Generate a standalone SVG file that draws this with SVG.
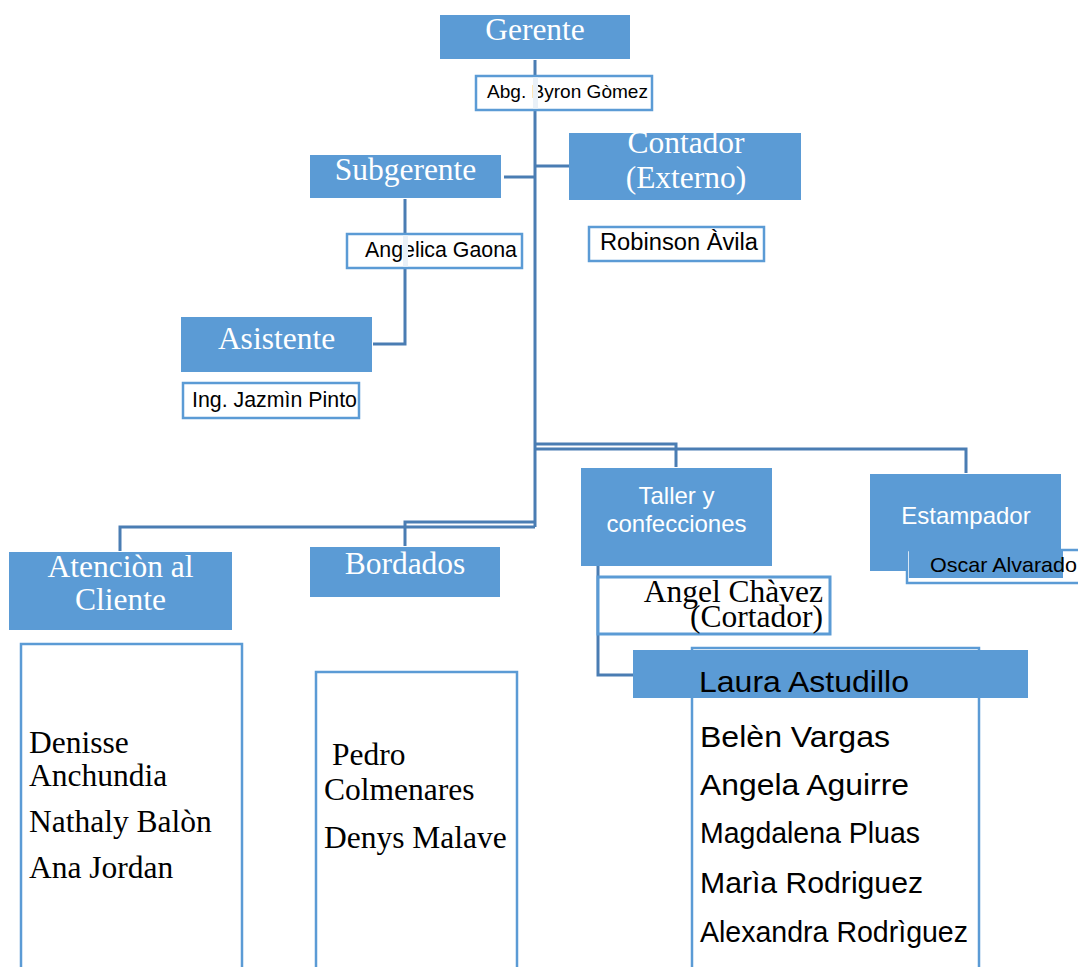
<svg xmlns="http://www.w3.org/2000/svg" width="1078" height="967" viewBox="0 0 1078 967">
<style>
.box{fill:#5b9bd5}
.wbox{fill:#fff;stroke:#5b9bd5;stroke-width:2.5}
.conn{fill:none;stroke:#4a7db3;stroke-width:3}
.serifW{font-family:"Liberation Serif","Times New Roman",serif;font-size:31.5px;fill:#fff;text-anchor:middle}
.serifB{font-family:"Liberation Serif","Times New Roman",serif;font-size:31.5px;fill:#000}
.sansW{font-family:"Liberation Sans",Arial,sans-serif;font-size:24px;fill:#fff;text-anchor:middle}
.sansB{font-family:"Liberation Sans",Arial,sans-serif;fill:#000}
.band{fill:#eaf1f8}
</style>
<rect width="1078" height="967" fill="#fff"/>
<g id="connectors">
<path class="conn" d="M535,60 V527"/>
<path class="conn" d="M504,177 H535"/>
<path class="conn" d="M535,166 H569"/>
<path class="conn" d="M405,199 V344 H373"/>
<path class="conn" d="M535,444 H676 V467"/>
<path class="conn" d="M535,449 H966 V473"/>
<path class="conn" d="M535,522 H405 V546"/>
<path class="conn" d="M535,527 H120 V551"/>
<path class="conn" d="M598,566 V675 H633"/>
</g>
<g id="gerente">
<rect class="box" x="440" y="15" width="190" height="44"/>
<text class="serifW" x="535" y="40">Gerente</text>
</g>
<g id="abg">
<rect class="wbox" x="476" y="76" width="176" height="34"/>
<text class="sansB" x="487" y="98" font-size="19" textLength="161" lengthAdjust="spacingAndGlyphs">Abg. Byron Gòmez</text>
<rect class="band" x="533" y="77.5" width="5" height="31"/>
</g>
<g id="subgerente">
<rect class="box" x="310" y="155" width="191" height="43"/>
<text class="serifW" x="405.5" y="180">Subgerente</text>
</g>
<g id="contador">
<rect class="box" x="569" y="133" width="232" height="67"/>
<text class="serifW" x="686" y="153">Contador</text>
<text class="serifW" x="686" y="188">(Externo)</text>
</g>
<g id="robinson">
<rect class="wbox" x="589" y="227" width="175" height="34"/>
<text class="sansB" x="600" y="250" font-size="23" textLength="158" lengthAdjust="spacingAndGlyphs">Robinson Àvila</text>
</g>
<g id="angelica">
<rect class="wbox" x="347" y="234" width="175" height="34"/>
<text class="sansB" x="365" y="257" font-size="22" textLength="152" lengthAdjust="spacingAndGlyphs">Angelica Gaona</text>
<rect class="band" x="403" y="235.5" width="5" height="31"/>
</g>
<g id="asistente">
<rect class="box" x="181" y="317" width="191" height="55"/>
<text class="serifW" x="276.5" y="349">Asistente</text>
</g>
<g id="jazmin">
<rect class="wbox" x="183" y="383" width="176" height="35"/>
<text class="sansB" x="192" y="407" font-size="22" textLength="165" lengthAdjust="spacingAndGlyphs">Ing. Jazmìn Pinto</text>
</g>
<g id="atencion">
<rect class="box" x="9" y="552" width="223" height="78"/>
<text class="serifW" x="120.5" y="577">Atenciòn al</text>
<text class="serifW" x="120.5" y="610">Cliente</text>
</g>
<g id="atencion-lista">
<rect class="wbox" x="21" y="644" width="221" height="340"/>
<text class="serifB" x="29" y="753">Denisse</text>
<text class="serifB" x="29" y="786">Anchundia</text>
<text class="serifB" x="29" y="832">Nathaly Balòn</text>
<text class="serifB" x="29" y="878">Ana Jordan</text>
</g>
<g id="bordados">
<rect class="box" x="310" y="547" width="190" height="50"/>
<text class="serifW" x="405" y="574">Bordados</text>
</g>
<g id="bordados-lista">
<rect class="wbox" x="316" y="672" width="201" height="320"/>
<text class="serifB" x="332" y="765">Pedro</text>
<text class="serifB" x="324" y="800">Colmenares</text>
<text class="serifB" x="324" y="848">Denys Malave</text>
</g>
<g id="taller">
<rect class="box" x="581" y="468" width="191" height="98"/>
<text class="sansW" x="676.5" y="504">Taller y</text>
<text class="sansW" x="676.5" y="532">confecciones</text>
</g>
<g id="estampador">
<rect class="box" x="870" y="474" width="191" height="97"/>
<text class="sansW" x="966" y="524">Estampador</text>
</g>
<g id="oscar">
<rect fill="#fff" stroke="#5b9bd5" stroke-width="2.5" x="907" y="550" width="180" height="33"/>
<rect class="box" x="909" y="551" width="154" height="27"/>
<text class="sansB" x="930" y="572" font-size="21" textLength="147" lengthAdjust="spacingAndGlyphs">Oscar Alvarado</text>
</g>
<g id="angel">
<rect fill="#fff" stroke="#5b9bd5" stroke-width="3" x="598" y="577" width="232" height="57"/>
<text class="serifB" x="823" y="602" text-anchor="end">Angel Chàvez</text>
<text class="serifB" x="823" y="627" text-anchor="end">(Cortador)</text>
</g>
<g id="taller-lista">
<rect class="wbox" x="692" y="648" width="287" height="340"/>
<rect class="box" x="633" y="650" width="395" height="48"/>
<text class="sansB" x="699" y="692" font-size="30" textLength="210" lengthAdjust="spacingAndGlyphs">Laura Astudillo</text>
<text class="sansB" x="700" y="747" font-size="30" textLength="190" lengthAdjust="spacingAndGlyphs">Belèn Vargas</text>
<text class="sansB" x="700" y="795" font-size="30" textLength="209" lengthAdjust="spacingAndGlyphs">Angela Aguirre</text>
<text class="sansB" x="700" y="843" font-size="30" textLength="220" lengthAdjust="spacingAndGlyphs">Magdalena Pluas</text>
<text class="sansB" x="700" y="893" font-size="30" textLength="223" lengthAdjust="spacingAndGlyphs">Marìa Rodriguez</text>
<text class="sansB" x="700" y="942" font-size="30" textLength="268" lengthAdjust="spacingAndGlyphs">Alexandra Rodrìguez</text>
</g>
</svg>
